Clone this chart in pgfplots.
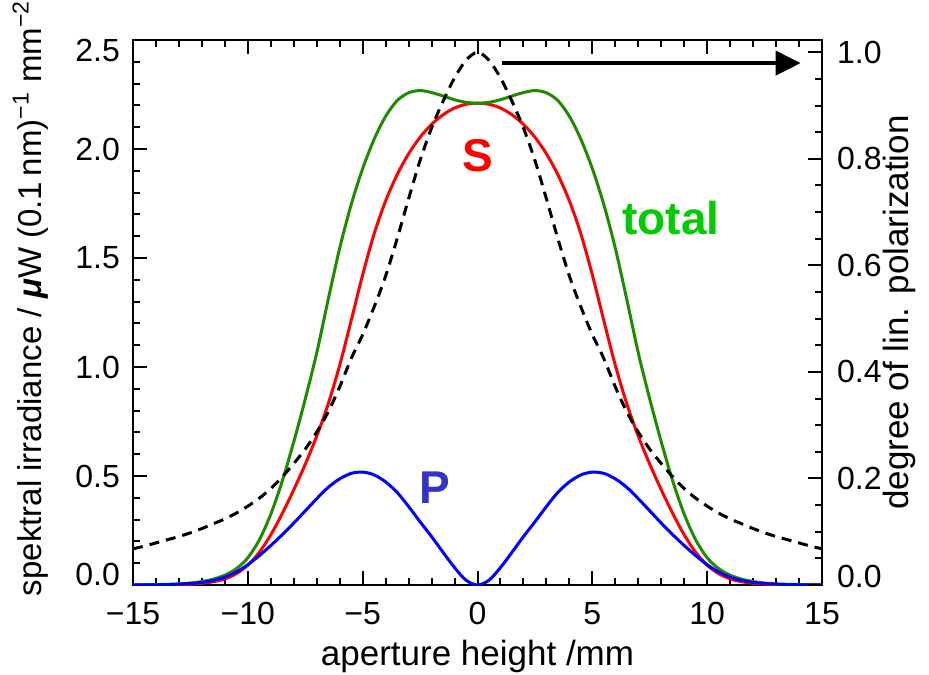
\documentclass[border=0pt]{standalone}
\usepackage{fontspec}
\setmainfont{Liberation Sans}
\usepackage{pgfplots}
\pgfplotsset{compat=1.18}
\usepackage{pgfplotstable}
\usetikzlibrary{arrows.meta}

\definecolor{linegreen}{RGB}{30,140,0}
\definecolor{labelgreen}{RGB}{0,204,0}
\definecolor{labelblue}{RGB}{51,51,204}

\pgfplotstableread{
x S T P D
-15 0.000 0.000 0.000 0.068
-14.5 0.0002 0.001 0.0005 0.073
-14 0.0005 0.002 0.001 0.079
-13.5 0.001 0.003 0.002 0.085
-13 0.002 0.005 0.004 0.091
-12.5 0.004 0.009 0.007 0.098
-12 0.008 0.016 0.012 0.106
-11.5 0.015 0.027 0.021 0.115
-11 0.028 0.045 0.036 0.124
-10.5 0.052 0.075 0.060 0.135
-10 0.091 0.125 0.093 0.148
-9.5 0.150 0.207 0.135 0.163
-9 0.230 0.325 0.181 0.181
-8.5 0.328 0.477 0.231 0.203
-8 0.437 0.657 0.284 0.228
-7.5 0.554 0.853 0.340 0.255
-7 0.683 1.065 0.396 0.287
-6.5 0.831 1.310 0.448 0.325
-6 1.008 1.545 0.487 0.372
-5.5 1.213 1.745 0.512 0.425
-5 1.423 1.910 0.518 0.470
-4.5 1.611 2.045 0.505 0.522
-4 1.762 2.150 0.473 0.580
-3.5 1.882 2.222 0.425 0.650
-3 1.978 2.258 0.360 0.725
-2.5 2.054 2.268 0.290 0.797
-2 2.113 2.259 0.222 0.858
-1.5 2.157 2.243 0.150 0.908
-1 2.188 2.226 0.080 0.952
-0.5 2.205 2.214 0.022 0.985
0 2.210 2.210 0.000 1.000
0.5 2.205 2.214 0.022 0.985
1 2.188 2.226 0.080 0.952
1.5 2.157 2.243 0.150 0.908
2 2.113 2.259 0.222 0.858
2.5 2.054 2.268 0.290 0.797
3 1.978 2.258 0.360 0.725
3.5 1.882 2.222 0.425 0.650
4 1.762 2.150 0.473 0.580
4.5 1.611 2.045 0.505 0.522
5 1.423 1.910 0.518 0.470
5.5 1.213 1.745 0.512 0.425
6 1.008 1.545 0.487 0.372
6.5 0.831 1.310 0.448 0.325
7 0.683 1.065 0.396 0.287
7.5 0.554 0.853 0.340 0.255
8 0.437 0.657 0.284 0.228
8.5 0.328 0.477 0.231 0.203
9 0.230 0.325 0.181 0.181
9.5 0.150 0.207 0.135 0.163
10 0.091 0.125 0.093 0.148
10.5 0.052 0.075 0.060 0.135
11 0.028 0.045 0.036 0.124
11.5 0.015 0.027 0.021 0.115
12 0.008 0.016 0.012 0.106
12.5 0.004 0.009 0.007 0.098
13 0.002 0.005 0.004 0.091
13.5 0.001 0.003 0.002 0.085
14 0.0005 0.002 0.001 0.079
14.5 0.0002 0.001 0.0005 0.073
15 0.000 0.000 0.000 0.068
}\data

\begin{document}
\begin{tikzpicture}
\pgfplotsset{
  commonstyle/.style={
    scale only axis, width=344.5pt, height=272.5pt,
    xmin=-15, xmax=15,
    major tick length=7pt, minor tick length=3.5pt,
    tick align=inside,
    tick style={line width=1pt, black},
    axis line style={line width=1pt},
    tick label style={font=\fontsize{16}{19}\selectfont},
    label style={font=\fontsize{17.5}{21}\selectfont},
  }
}
\begin{axis}[
  commonstyle,
  ymin=0, ymax=2.5,
  xtick={-15,-10,-5,0,5,10,15},
  xticklabels={−15,−10,−5,0,5,10,15},
  minor x tick num=4,
  ytick={0,0.5,1,1.5,2,2.5},
  yticklabels={\raisebox{5.5pt}[\height][\depth]{0.0},0.5,1.0,1.5,2.0,\raisebox{-5pt}[\height][\depth]{2.5}},
  minor y tick num=4,
  ytick pos=left,
  xtick pos=both,
  yticklabel style={xshift=-3pt},
  xticklabel style={yshift=-5pt},
  xlabel={aperture height /mm},
  ylabel={spektral irradiance / \textbf{\textit{μ}}W (0.1\,nm)\textsuperscript{−1} mm\textsuperscript{−2}},
  xlabel style={at={(axis description cs:0.5,-0.132)}, anchor=center},
  ylabel style={at={(axis description cs:-0.149,0.526)}, anchor=center, font=\fontsize{16.5}{20}\selectfont},
]
\addplot[red, line width=1.5pt, smooth] table[x=x, y=S] {\data};
\addplot[linegreen, line width=1.5pt, smooth] table[x=x, y=T] {\data};
\addplot[blue, line width=1.5pt, smooth] table[x=x, y=P] {\data};
\node[text=red, font=\fontsize{23}{27}\selectfont\bfseries] at (axis cs:0,1.97) {S};
\node[text=labelblue, font=\fontsize{23}{27}\selectfont\bfseries] at (axis cs:-1.84,0.448) {P};
\node[text=labelgreen, font=\fontsize{23}{27}\selectfont\bfseries] at (axis cs:8.42,1.683) {total};
\draw[line width=2pt, -{Triangle[length=12.5pt,width=12pt]}] (axis cs:1.07,2.394) -- (axis cs:14.07,2.394);
\end{axis}
\begin{axis}[
  commonstyle,
  ymin=0, ymax=1.023,
  xtick=\empty,
  ytick={0,0.2,0.4,0.6,0.8,1.0},
  yticklabels={\raisebox{4.5pt}[\height][\depth]{0.0},0.2,0.4,0.6,0.8,1.0},
  minor y tick num=3,
  ytick pos=right,
  yticklabel pos=right,
  axis line style={draw=none},
  yticklabel style={xshift=4pt},
  ylabel={degree of lin. polarization},
  ylabel style={at={(axis description cs:1.113,0.5)}, anchor=center},
]
\addplot[black, line width=1.5pt, dash pattern=on 5pt off 3.5pt, smooth] table[x=x, y=D] {\data};
\end{axis}
\pgfresetboundingbox
\path (-66.5pt,-44.5pt) rectangle (398pt,292.5pt);
\end{tikzpicture}
\end{document}
